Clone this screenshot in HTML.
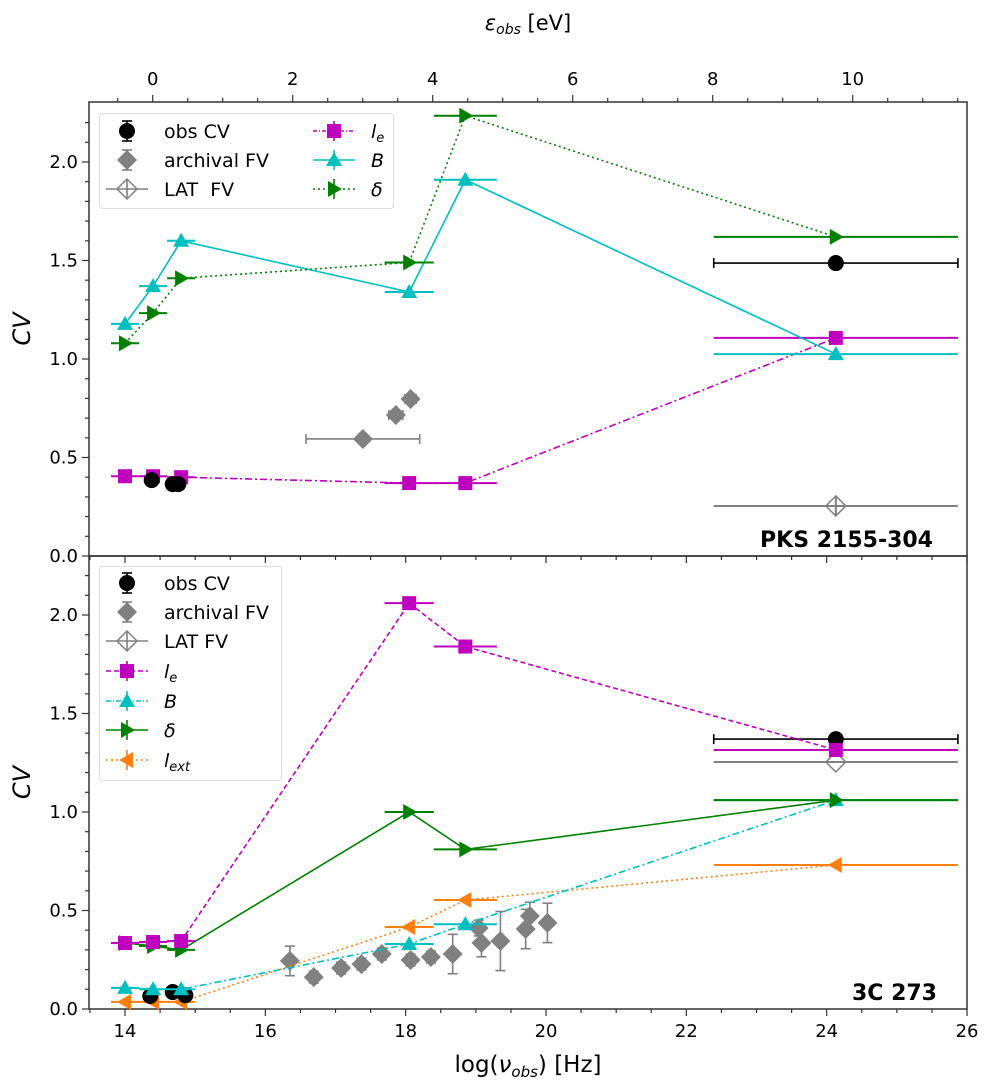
<!DOCTYPE html>
<html><head><meta charset="utf-8">
<style>
html,body{margin:0;padding:0;background:#fff;}
svg{display:block;font-family:"DejaVu Sans","Liberation Sans",sans-serif;}
</style></head>
<body>
<svg id="chart" width="989" height="1089" viewBox="0 0 989 1089" xmlns="http://www.w3.org/2000/svg"></svg>
<script>
// ---------- data ----------
const optX = [14.0, 14.4, 14.8];
const hiX = [18.05, 18.85, 24.13];
const modelX = [14.0, 14.4, 14.8, 18.05, 18.85, 24.13];
const modelXerr = [0.2, 0.2, 0.2, 0.35, 0.45, 1.74];

// top panel: PKS 2155-304
const topObsX = [14.38, 14.68, 14.76, 24.13];
const topObsY = [0.385, 0.365, 0.365, 1.487];
const topObsXerr = [0, 0, 0, 1.74];
const topLe = [0.405, 0.405, 0.40, 0.37, 0.37, 1.107];
const topB = [1.178, 1.37, 1.60, 1.34, 1.91, 1.025];
const topDelta = [1.08, 1.233, 1.41, 1.49, 2.235, 1.62];
const topArchX = [17.39, 17.86, 18.07];
const topArchY = [0.594, 0.716, 0.797];
const topArchXlo = [0.81, 0.1, 0.08];
const topArchXhi = [0.81, 0.1, 0.08];
const topLatX = [24.13];
const topLatY = [0.254];
const topLatYerr = [0.045];

// bottom panel: 3C 273
const botObsX = [14.36, 14.68, 14.86, 24.13];
const botObsY = [0.066, 0.086, 0.07, 1.37];
const botObsXerr = [0, 0, 0, 1.74];
const botLe = [0.335, 0.34, 0.345, 2.06, 1.84, 1.315];
const botB = [0.107, 0.10, 0.10, 0.33, 0.43, 1.06];
const botDelta = [0.335, 0.32, 0.30, 1.0, 0.81, 1.06];
const botLext = [0.036, 0.036, 0.036, 0.416, 0.553, 0.731];
const botArchX = [16.35, 16.69, 17.08, 17.37, 17.66, 18.07, 18.36, 18.67, 19.04, 19.08, 19.35, 19.71, 19.77, 20.02];
const botArchY = [0.244, 0.162, 0.208, 0.228, 0.279, 0.249, 0.264, 0.279, 0.411, 0.335, 0.345, 0.406, 0.472, 0.437];
const botArchYerr = [0.075, 0.03, 0.03, 0.03, 0.03, 0.03, 0.03, 0.1, 0.04, 0.07, 0.15, 0.1, 0.07, 0.1];
const botLatX = [24.13];
const botLatY = [1.254];

const xTicks = [14, 16, 18, 20, 22, 24, 26];
const yTicks = [0.0, 0.5, 1.0, 1.5, 2.0];
const epsTicks = [0, 2, 4, 6, 8, 10];

// ---------- scales ----------
const L = 89, R = 967;
const X = v => 125 + (v - 14) * 70.17;
const E = e => 152.7 + e * 70.0;
const panels = { top: { y0: 556, y1: 102 }, bot: { y0: 1009, y1: 556 } };
const Yf = p => v => panels[p].y0 - v * 197;

const svg = document.getElementById('chart');
const NS = 'http://www.w3.org/2000/svg';
function mk(tag, attrs, parent) {
  const e = document.createElementNS(NS, tag);
  for (const k in attrs) e.setAttribute(k, attrs[k]);
  (parent || svg).appendChild(e);
  return e;
}
function txt(s, x, y, attrs, parent) {
  const t = mk('text', Object.assign({ x: x, y: y }, attrs), parent);
  t.innerHTML = s;
  return t;
}
function marker(g, type, cx, cy, color, open) {
  let e;
  const fill = open ? 'none' : color;
  if (type === 'circle') e = mk('circle', { cx: cx, cy: cy, r: 7.5, fill: fill, stroke: color }, g);
  else if (type === 'square') e = mk('rect', { x: cx - 7, y: cy - 7, width: 14, height: 14, fill: fill }, g);
  else if (type === 'tri-up') e = mk('polygon', { points: `${cx},${cy - 8} ${cx - 8},${cy + 6} ${cx + 8},${cy + 6}`, fill: fill }, g);
  else if (type === 'tri-right') e = mk('polygon', { points: `${cx + 8},${cy} ${cx - 6},${cy - 8} ${cx - 6},${cy + 8}`, fill: fill }, g);
  else if (type === 'tri-left') e = mk('polygon', { points: `${cx - 8},${cy} ${cx + 6},${cy - 8} ${cx + 6},${cy + 8}`, fill: fill }, g);
  else if (type === 'diamond') e = mk('polygon', { points: `${cx},${cy - 10} ${cx + 10},${cy} ${cx},${cy + 10} ${cx - 10},${cy}`, fill: fill, stroke: open ? color : 'none', 'stroke-width': 1.5 }, g);
  
  
  return e;
}

function modelSeries(p, name, ys, color, dash, mtype) {
  const Y = Yf(p);
  const g = mk('g', {});
  
  
  const pts = modelX.map((x, i) => X(x) + ',' + Y(ys[i])).join(' ');
  mk('polyline', { points: pts, fill: 'none', stroke: color, 'stroke-width': 1.6, 'stroke-dasharray': dash }, g);
  modelX.forEach((x, i) => {
    mk('line', { x1: X(x - modelXerr[i]), x2: X(x + modelXerr[i]), y1: Y(ys[i]), y2: Y(ys[i]), stroke: color, 'stroke-width': 2 }, g);
    marker(g, mtype, X(x), Y(ys[i]), color);
  });
}
function obsSeries(p, xs, ys, xerr) {
  const Y = Yf(p);
  const g = mk('g', {});
  
  
  xs.forEach((x, i) => {
    if (xerr[i] > 0) {
      const a = X(x - xerr[i]), b = X(x + xerr[i]), y = Y(ys[i]);
      mk('line', { x1: a, x2: b, y1: y, y2: y, stroke: '#000', 'stroke-width': 1.6 }, g);
      mk('line', { x1: a, x2: a, y1: y - 5, y2: y + 5, stroke: '#000', 'stroke-width': 1.6 }, g);
      mk('line', { x1: b, x2: b, y1: y - 5, y2: y + 5, stroke: '#000', 'stroke-width': 1.6 }, g);
    }
    marker(g, 'circle', X(x), Y(ys[i]), '#000');
  });
}

function axes(p) {
  const y0 = panels[p].y0, y1 = panels[p].y1;
  const g = mk('g', {});
  
  
  mk('rect', { x: L, y: y1, width: R - L, height: y0 - y1, fill: 'none', stroke: '#333', 'stroke-width': 1.5 }, g);
  const Y = Yf(p);
  for (let k = 0; k <= 22; k++) {
    const v = k / 10, y = Y(v);
    if (y < y1 + 0.5) continue;
    const major = k % 5 === 0;
    mk('line', { x1: L, x2: L - (major ? 7 : 4), y1: y, y2: y, stroke: '#333', 'stroke-width': 1.2 }, g);
  }
  yTicks.forEach(v => {
    const t = txt(v.toFixed(1), L - 11, Y(v) + 6, { 'text-anchor': 'end', 'font-size': 18, fill: '#000' }, g);
    
    
  });
  for (let v = 13.5; v <= 26.01; v += 0.5) {
    const major = Math.abs(v % 2) < 0.01;
    mk('line', { x1: X(v), x2: X(v), y1: y0, y2: y0 + (major ? 7 : 4), stroke: '#333', 'stroke-width': 1.2 }, g);
  }
  const yl = txt('CV', 30, (y0 + y1) / 2, { 'text-anchor': 'middle', 'font-size': 24, 'font-style': 'italic', transform: `rotate(-90 30 ${(y0 + y1) / 2})` }, g);
  
  
}

axes('top');
axes('bot');

// top epsilon axis
(function () {
  const g = mk('g', {});
  
  
  for (let e = -0.5; e <= 11.6; e += 0.5) {
    const major = Math.abs(e % 2) < 0.01;
    mk('line', { x1: E(e), x2: E(e), y1: 102, y2: 102 - (major ? 7 : 4), stroke: '#333', 'stroke-width': 1.2 }, g);
  }
  epsTicks.forEach(e => {
    const t = txt(String(e), E(e), 85, { 'text-anchor': 'middle', 'font-size': 18 }, g);
    
    
  });
  const t = txt('<tspan font-style="italic">ε</tspan><tspan font-style="italic" font-size="14" dy="4">obs</tspan><tspan dy="-4">  [eV]</tspan>', 528, 30, { 'text-anchor': 'middle', 'font-size': 21, 'xml:space': 'preserve' }, g);
  
  
})();

xTicks.forEach(v => {
  const t = txt(String(v), X(v), 1037, { 'text-anchor': 'middle', 'font-size': 18 });
  
  
});
(function () {
  const t = txt('log(<tspan font-style="italic">ν</tspan><tspan font-style="italic" font-size="15" dy="5">obs</tspan><tspan dy="-5">) [Hz]</tspan>', 528, 1072, { 'text-anchor': 'middle', 'font-size': 23 });
  
  
})();

// ---------- top panel series ----------
(function () {
  const Y = Yf('top');
  const g = mk('g', {});
  
  
  topArchX.forEach((x, i) => {
    const a = X(x - topArchXlo[i]), b = X(x + topArchXhi[i]), y = Y(topArchY[i]);
    mk('line', { x1: a, x2: b, y1: y, y2: y, stroke: 'gray', 'stroke-width': 1.6 }, g);
    mk('line', { x1: a, x2: a, y1: y - 5, y2: y + 5, stroke: 'gray', 'stroke-width': 1.6 }, g);
    mk('line', { x1: b, x2: b, y1: y - 5, y2: y + 5, stroke: 'gray', 'stroke-width': 1.6 }, g);
    marker(g, 'diamond', X(x), y, 'gray');
  });
  const g2 = mk('g', {});
  
  
  topLatX.forEach((x, i) => {
    const y = Y(topLatY[i]);
    mk('line', { x1: X(x - 1.74), x2: X(x + 1.74), y1: y, y2: y, stroke: 'gray', 'stroke-width': 2 }, g2);
    mk('line', { x1: X(x), x2: X(x), y1: Y(topLatY[i] + topLatYerr[i]), y2: Y(topLatY[i] - topLatYerr[i]), stroke: 'gray', 'stroke-width': 2 }, g2);
    marker(g2, 'diamond', X(x), y, 'gray', true);
  });
})();
modelSeries('top', 'le', topLe, '#bf00bf', '7 3 2 3', 'square');
obsSeries('top', topObsX, topObsY, topObsXerr);
modelSeries('top', 'b', topB, '#00bfbf', 'none', 'tri-up');
modelSeries('top', 'delta', topDelta, 'green', '2 3', 'tri-right');

// ---------- bottom panel series ----------
(function () {
  const Y = Yf('bot');
  const g = mk('g', {});
  
  
  botArchX.forEach((x, i) => {
    const xx = X(x), a = Y(botArchY[i] + botArchYerr[i]), b = Y(botArchY[i] - botArchYerr[i]);
    mk('line', { x1: xx, x2: xx, y1: a, y2: b, stroke: 'gray', 'stroke-width': 1.6 }, g);
    mk('line', { x1: xx - 5, x2: xx + 5, y1: a, y2: a, stroke: 'gray', 'stroke-width': 1.6 }, g);
    mk('line', { x1: xx - 5, x2: xx + 5, y1: b, y2: b, stroke: 'gray', 'stroke-width': 1.6 }, g);
    marker(g, 'diamond', xx, Y(botArchY[i]), 'gray');
  });
  const g2 = mk('g', {});
  
  
  botLatX.forEach((x, i) => {
    const y = Y(botLatY[i]);
    mk('line', { x1: X(x - 1.74), x2: X(x + 1.74), y1: y, y2: y, stroke: 'gray', 'stroke-width': 2 }, g2);
    marker(g2, 'diamond', X(x), y, 'gray', true);
  });
})();
modelSeries('bot', 'lext', botLext, '#ff7f0e', '2 3', 'tri-left');
obsSeries('bot', botObsX, botObsY, botObsXerr);
modelSeries('bot', 'b', botB, '#00bfbf', '7 3 2 3', 'tri-up');
modelSeries('bot', 'delta', botDelta, 'green', 'none', 'tri-right');
modelSeries('bot', 'le', botLe, '#bf00bf', '5 3', 'square');

// ---------- source labels ----------
(function () {
  let t = txt('PKS 2155-304', 933, 547, { 'text-anchor': 'end', 'font-size': 22, 'font-weight': 'bold' });
  
  
  t = txt('3C 273', 937, 1000, { 'text-anchor': 'end', 'font-size': 22, 'font-weight': 'bold' });
  
  
})();

// ---------- legends ----------
function legendEntry(g, x, y, label, kind, color, dash, mtype, open) {
  const e = mk('g', {}, g);
  
  
  const cx = x + 21;
  if (kind === 'line') mk('line', { x1: x, x2: x + 42, y1: y, y2: y, stroke: color, 'stroke-width': 1.6, 'stroke-dasharray': dash }, e);
  mk('line', { x1: cx, x2: cx, y1: y - 10, y2: y + 10, stroke: color, 'stroke-width': 1.6 }, e);
  if (kind === 'err') {
    mk('line', { x1: cx - 5, x2: cx + 5, y1: y - 10, y2: y - 10, stroke: color, 'stroke-width': 1.6 }, e);
    mk('line', { x1: cx - 5, x2: cx + 5, y1: y + 10, y2: y + 10, stroke: color, 'stroke-width': 1.6 }, e);
  }
  marker(e, mtype, cx, y, color, open);
  txt(label, x + 58, y + 7, { 'font-size': 19 }, e);
}
(function () {
  const g = mk('g', {});
  
  
  mk('rect', { x: 99.5, y: 113.5, width: 294, height: 95, rx: 3, fill: '#fff', 'fill-opacity': 0.8, stroke: '#ddd' }, g);
  legendEntry(g, 106, 131, 'obs CV', 'err', '#000', '', 'circle');
  legendEntry(g, 106, 160, 'archival FV', 'err', 'gray', '', 'diamond');
  legendEntry(g, 106, 189, 'LAT&#160; FV', 'line', 'gray', 'none', 'diamond', true);
  legendEntry(g, 313, 131, '<tspan font-style="italic">l</tspan><tspan font-style="italic" font-size="13" dy="4">e</tspan>', 'line', '#bf00bf', '4 2 1 2', 'square');
  legendEntry(g, 313, 160, '<tspan font-style="italic">B</tspan>', 'line', '#00bfbf', 'none', 'tri-up');
  legendEntry(g, 313, 189, '<tspan font-style="italic">δ</tspan>', 'line', 'green', '2 3', 'tri-right');
})();
(function () {
  const g = mk('g', {});
  
  
  mk('rect', { x: 99.5, y: 566.5, width: 182, height: 214, rx: 3, fill: '#fff', 'fill-opacity': 0.8, stroke: '#ddd' }, g);
  legendEntry(g, 106, 583, 'obs CV', 'err', '#000', '', 'circle');
  legendEntry(g, 106, 612, 'archival FV', 'err', 'gray', '', 'diamond');
  legendEntry(g, 106, 641, 'LAT FV', 'line', 'gray', 'none', 'diamond', true);
  legendEntry(g, 106, 671, '<tspan font-style="italic">l</tspan><tspan font-style="italic" font-size="13" dy="4">e</tspan>', 'line', '#bf00bf', '5 3', 'square');
  legendEntry(g, 106, 701, '<tspan font-style="italic">B</tspan>', 'line', '#00bfbf', '5 2 1 2', 'tri-up');
  legendEntry(g, 106, 730, '<tspan font-style="italic">δ</tspan>', 'line', 'green', 'none', 'tri-right');
  legendEntry(g, 106, 760, '<tspan font-style="italic">l</tspan><tspan font-style="italic" font-size="13" dy="4">ext</tspan>', 'line', '#ff7f0e', '2 3', 'tri-left');
})();
</script>
</body></html>
